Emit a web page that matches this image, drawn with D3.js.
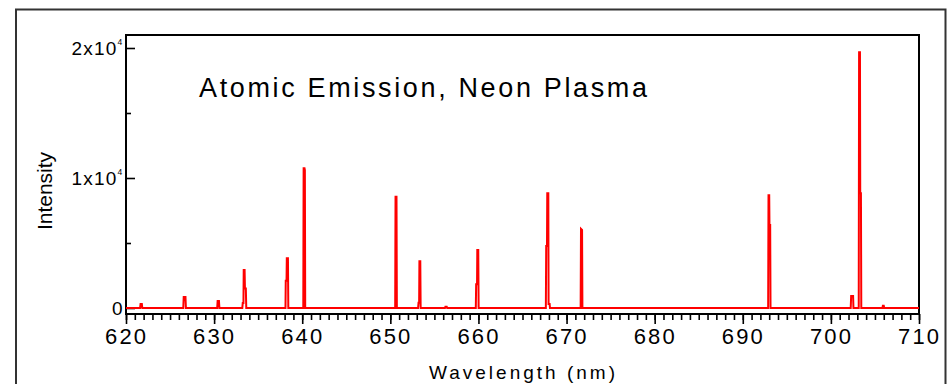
<!DOCTYPE html>
<html>
<head>
<meta charset="utf-8">
<script src="https://cdn.jsdelivr.net/npm/d3@7"></script>
<style>
  html, body { margin: 0; padding: 0; background: #fff; }
  svg { display: block; font-family: "Liberation Sans", Arial, sans-serif; }
</style>
</head>
<body>
<svg id="chart" width="950" height="384"></svg>
<script>
// ---- data ----
const titleText = "Atomic Emission, Neon Plasma";
const xLabel = "Wavelength (nm)";
const yLabel = "Intensity";
const xTicks = [620, 630, 640, 650, 660, 670, 680, 690, 700, 710];
const xTickLabels = ["620", "630", "640", "650", "660", "670", "680", "690", "700", "710"];
const xMinorTicks = d3.range(620, 711, 1);
const yTicks = [0, 10000, 20000];
const yTickBase = ["0", "1x10", "2x10"];
const yTickExp = ["", "4", "4"];
const yMinorTicks = [5000, 15000];

// spectrum trace vertices (wavelength nm, intensity)
const wavelength = [
  620.0, 621.6, 621.65, 621.8, 621.85,
  626.5, 626.55, 626.75, 626.8,
  630.35, 630.4, 630.55, 630.6,
  633.2, 633.25, 633.33, 633.36, 633.46, 633.5, 633.6, 633.65,
  638.1, 638.13, 638.22, 638.25, 638.38, 638.42,
  640.12, 640.16, 640.26, 640.3, 640.34,
  650.55, 650.59, 650.7, 650.74,
  653.15, 653.2, 653.27, 653.3, 653.4, 653.44,
  656.2, 656.25, 656.4, 656.45,
  659.7, 659.74, 659.84, 659.87, 659.98, 660.02,
  667.65, 667.69, 667.78, 667.81, 667.93, 667.96, 668.08, 668.12,
  671.6, 671.64, 671.76, 671.8,
  692.88, 692.92, 693.0, 693.03, 693.11, 693.15,
  702.25, 702.3, 702.52, 702.56,
  703.16, 703.2, 703.3, 703.33, 703.41, 703.45,
  705.85, 705.9, 706.0, 706.05,
  710.0
];
const intensity = [
  0, 0, 300, 300, 0,
  0, 850, 850, 0,
  0, 540, 540, 0,
  0, 380, 380, 2920, 2920, 1500, 1500, 0,
  0, 2100, 2100, 3820, 3820, 0,
  0, 10750, 10750, 10600, 0,
  0, 8560, 8560, 0,
  0, 400, 400, 3590, 3590, 0,
  0, 100, 100, 0,
  0, 1820, 1820, 4460, 4460, 0,
  0, 4770, 4770, 8820, 8820, 300, 300, 0,
  0, 6080, 6000, 0,
  0, 8670, 8670, 6380, 6380, 0,
  0, 920, 920, 0,
  0, 19670, 19670, 8820, 8820, 0,
  0, 180, 180, 0,
  0
];

// ---- layout ----
const svg = d3.select("#chart");
const L = 126, R = 919, T = 35, B = 314;
const x = d3.scaleLinear().domain([620, 710]).range([L, R]);
const y = d3.scaleLinear().domain([-461.5, 21000]).range([B, T]);

// outer frame (open at bottom)
svg.append("path")
  .attr("d", `M16,400 V9.5 H945.5 V400`)
  .attr("fill", "none").attr("stroke", "#333").attr("stroke-width", 2);

// x axis minor ticks
const gxMinor = svg.append("g").attr("transform", `translate(0,${B})`)
  .call(d3.axisBottom(x).tickValues(xMinorTicks).tickSize(6).tickFormat(""));
gxMinor.select(".domain").remove();
gxMinor.selectAll("line").attr("stroke", "#000").attr("stroke-width", 1.6);

// x axis major ticks + labels
const gx = svg.append("g").attr("transform", `translate(0,${B})`)
  .call(d3.axisBottom(x).tickValues(xTicks).tickSize(10)
        .tickFormat((d, i) => xTickLabels[i]));
gx.select(".domain").remove();
gx.selectAll("line").attr("stroke", "#000").attr("stroke-width", 1.6);
gx.selectAll("text")
  .attr("y", 30.3).attr("dy", 0).attr("x", -1)
  .attr("fill", "#000")
  .style("font-size", "22px")
  .attr("textLength", 41).attr("lengthAdjust", "spacing");

// y axis minor ticks (inward)
const gyMinor = svg.append("g").attr("transform", `translate(${L},0)`)
  .call(d3.axisLeft(y).tickValues(yMinorTicks).tickSizeInner(-5).tickSizeOuter(0).tickFormat(""));
gyMinor.select(".domain").remove();
gyMinor.selectAll("line").attr("stroke", "#000").attr("stroke-width", 1.6);

// y axis major ticks (inward) + labels
const gy = svg.append("g").attr("transform", `translate(${L},0)`)
  .call(d3.axisLeft(y).tickValues(yTicks).tickSizeInner(-9).tickSizeOuter(0)
        .tickPadding(4).tickFormat(""));
gy.select(".domain").remove();
gy.selectAll("line").attr("stroke", "#000").attr("stroke-width", 1.6);
gy.selectAll(".tick text").each(function (d, i) {
  const t = d3.select(this)
    .attr("x", yTickExp[i] ? -8.5 : -3.5)
    .attr("dy", "0.36em")
    .attr("fill", "#000")
    .attr("text-anchor", "end")
    .style("font-size", "19px");
  t.text(null);
  t.append("tspan").text(yTickBase[i])
    .style("letter-spacing", yTickExp[i] ? "1.2px" : "0px");
  if (yTickExp[i]) {
    svg.append("text")
      .attr("x", L - 8.5).attr("y", y(d) - 3.5)
      .attr("fill", "#000")
      .style("font-size", "8.5px")
      .text(yTickExp[i]);
  }
});

// plot frame
svg.append("rect")
  .attr("x", L).attr("y", T).attr("width", R - L).attr("height", B - T)
  .attr("fill", "none").attr("stroke", "#000").attr("stroke-width", 2);

// spectrum trace
const pts = wavelength.map((w, i) => [w, intensity[i]]);
svg.append("path")
  .datum(pts)
  .attr("d", d3.line().x(d => x(d[0])).y(d => y(d[1])))
  .attr("fill", "none")
  .attr("stroke", "#ff0000")
  .attr("stroke-width", 2)
  .attr("stroke-linejoin", "miter");

// title
svg.append("text")
  .attr("x", 199).attr("y", 96.7)
  .attr("fill", "#000")
  .style("font-size", "27px")
  .attr("textLength", 448).attr("lengthAdjust", "spacing")
  .text(titleText);

// axis labels
svg.append("text")
  .attr("x", 522).attr("y", 379.3)
  .attr("text-anchor", "middle")
  .attr("fill", "#000")
  .style("font-size", "19px")
  .attr("textLength", 186).attr("lengthAdjust", "spacing")
  .text(xLabel);

svg.append("text")
  .attr("transform", `translate(52.3,191) rotate(-90)`)
  .attr("text-anchor", "middle")
  .attr("fill", "#000")
  .style("font-size", "21px")
  .text(yLabel);
</script>
</body>
</html>
